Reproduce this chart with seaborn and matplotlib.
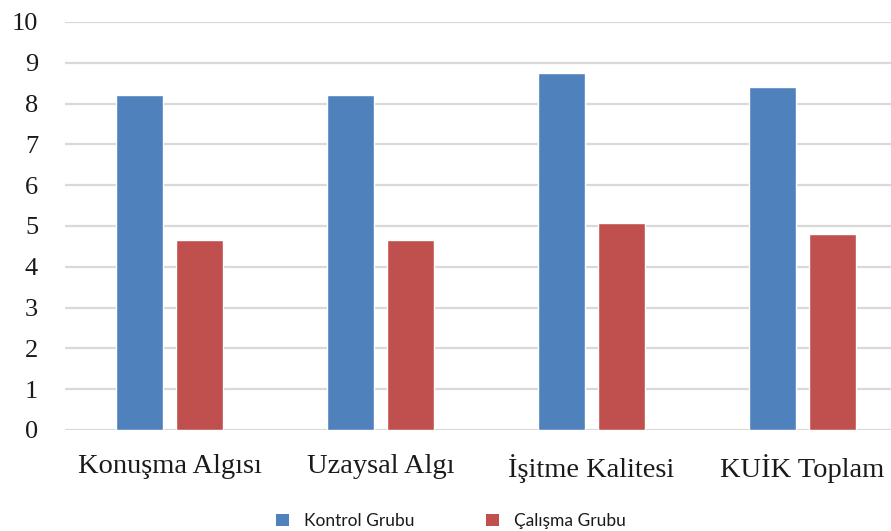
import matplotlib
matplotlib.use("Agg")
import matplotlib.pyplot as plt
import seaborn as sns
import pandas as pd
from matplotlib.patches import Patch

categories = ["Konuşma Algısı", "Uzaysal Algı", "İşitme Kalitesi", "KUİK Toplam"]
groups = ["Kontrol Grubu", "Çalışma Grubu"]
kontrol = [8.2, 8.2, 8.75, 8.4]
calisma = [4.66, 4.66, 5.08, 4.81]
y_ticks = list(range(0, 11))

colors = {"Kontrol Grubu": "#4f81bd", "Çalışma Grubu": "#c0504d"}

df = pd.DataFrame({
    "kategori": categories * 2,
    "grup": [groups[0]] * len(categories) + [groups[1]] * len(categories),
    "deger": kontrol + calisma,
})

sns.set_theme(style="white")
plt.rcParams["font.family"] = ["Liberation Serif", "DejaVu Serif"]

fig = plt.figure(figsize=(8.91, 5.31), dpi=100)
# plot area runs slightly past the right edge of the canvas
ax = fig.add_axes([64.5 / 891, 1 - 430 / 531, (907.5 - 64.5) / 891, (430 - 22) / 531])

sns.barplot(data=df, x="kategori", y="deger", hue="grup", order=categories,
            hue_order=groups, palette=colors, width=0.569, gap=0.215,
            saturation=1, legend=False, ax=ax, zorder=3)

ax.set_ylim(0, 10)
ax.set_xlim(-0.5, len(categories) - 0.5)
ax.set_yticks(y_ticks)
ax.set_yticklabels([str(t) for t in y_ticks])
ax.yaxis.grid(True, color="#d9d9d9", linewidth=1.6, zorder=0)
ax.xaxis.grid(False)
for s in ax.spines.values():
    s.set_visible(False)
ax.tick_params(axis="y", length=0, pad=19, labelsize=19, labelcolor="#1a1a1a")
ax.tick_params(axis="x", length=0, pad=17, labelsize=20.5, labelcolor="#1a1a1a")
ax.set_xlabel("")
ax.set_ylabel("")

handles = [Patch(facecolor=colors[g], edgecolor="none") for g in groups]
leg = fig.legend(handles, groups, loc="center", bbox_to_anchor=(451 / 891, 1 - 521 / 531),
                 ncol=2, frameon=False, prop={"family": "Lato", "size": 12.5},
                 handlelength=0.75, handleheight=0.75, handletextpad=0.85,
                 columnspacing=4.1)
for t in leg.get_texts():
    t.set_color("#1a1a1a")

fig.savefig("out.png", dpi=100)
